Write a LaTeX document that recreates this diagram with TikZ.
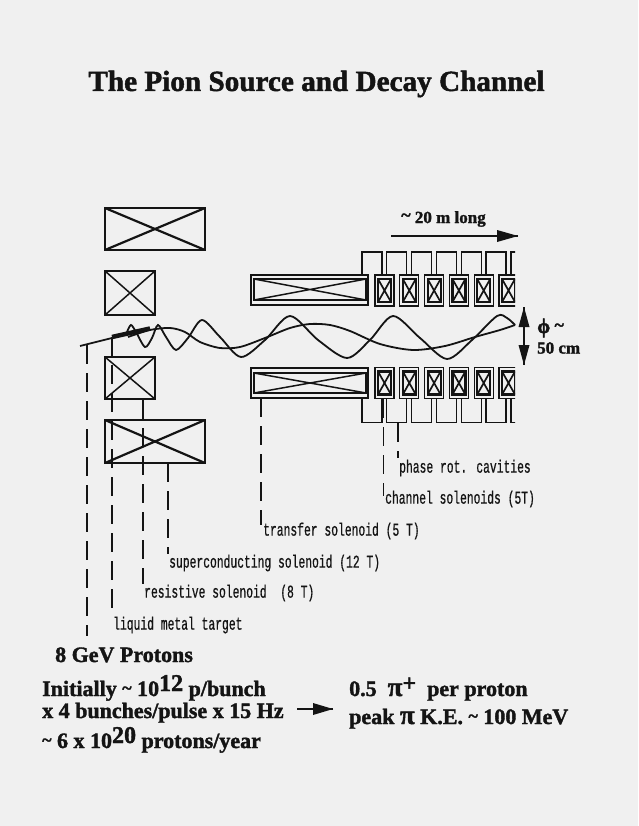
\documentclass[tikz,border=0pt]{standalone}
\usepackage{fontspec}
\setmainfont[BoldFeatures={FakeBold=1.6}]{Liberation Serif}
\newfontfamily\labelfont[FakeStretch=0.63,FakeBold=0.6]{Liberation Mono}
\definecolor{paper}{HTML}{F0F0F0}
\definecolor{ink}{HTML}{141414}
\newcommand{\upnum}[1]{\raisebox{5pt}{\fontsize{24}{24}\selectfont #1}}
\newcommand{\twiddle}{\raisebox{2pt}{\fontsize{18}{18}\selectfont\textasciitilde}}
\newcommand{\bigpi}{{\fontsize{27}{27}\selectfont π}}
\tikzset{
    crossed/.style={draw=ink, inner sep=0pt, path picture={
        \draw[ink, line width=#1]
            (path picture bounding box.north west) -- (path picture bounding box.south east)
            (path picture bounding box.south west) -- (path picture bounding box.north east);
    }},
    magnet/.style={crossed=2.2pt, line width=1.9pt},
    smallmagnet/.style={crossed=1.5pt, line width=1.4pt},
    shell/.style={draw=ink, inner sep=0pt, line width=1.3pt},
    leader/.style={ink, line width=1.1pt, dash pattern=on 19pt off 9pt},
    tag/.style={ink, anchor=west, inner sep=0pt, font=\labelfont\fontsize{18}{19}\selectfont},
    heading/.style={ink, anchor=west, inner sep=0pt, text height=13pt, text depth=4pt, font=\bfseries\fontsize{22}{24}\selectfont},
    beam/.style={ink, line width=1.8pt}
}
\begin{document}
\begin{tikzpicture}[x=1pt, y=-1pt]
    \fill[paper] (0,0) rectangle (638,826);

    \node[ink, font=\bfseries\fontsize{29.2}{32}\selectfont] (title) at (316.5,84) {The Pion Source and Decay Channel};

    % Magnets around the target
    \node[magnet, minimum width=100pt, minimum height=42pt] (coilA) at (155,229) {};
    \node[smallmagnet, minimum width=50pt, minimum height=44pt] (coilB) at (130,293) {};
    \node[smallmagnet, minimum width=50pt, minimum height=42pt] (coilC) at (130,378) {};
    \node[magnet, minimum width=100pt, minimum height=43pt] (coilD) at (155,441.5) {};

    % Transfer solenoid
    \node[shell, minimum width=117pt, minimum height=30pt] (transUp) at (309.5,290) {};
    \node[crossed=1.5pt, line width=1.3pt, minimum width=112pt, minimum height=21pt] at (310,289.5) {};
    \node[shell, minimum width=117pt, minimum height=30pt] (transDown) at (309.5,383) {};
    \node[crossed=1.5pt, line width=1.3pt, minimum width=112pt, minimum height=20pt] at (310,383) {};

    % Channel solenoids and phase rotation cavities
    \begin{scope}
        \clip (355,240) rectangle (515,430);
        \foreach \n/\x in {1/384.5, 2/409.3, 3/434.1, 4/458.9, 5/483.7, 6/508.5} {
            \node[shell, minimum width=19pt, minimum height=31pt] (upper\n) at (\x,290.5) {};
            \node[crossed=1.7pt, line width=2.2pt, minimum width=13pt, minimum height=23pt] at (\x,290.5) {};
            \node[shell, minimum width=19pt, minimum height=31pt] (lower\n) at (\x,383) {};
            \node[crossed=1.7pt, line width=2.2pt, minimum width=13pt, minimum height=23pt] at (\x,383) {};
            \draw[ink, line width=1.2pt] (\x-22.5,275) |- (\x-2.5,252) -- (\x-2.5,275);
            \draw[ink, line width=1.2pt] (\x-22.5,398) |- (\x-2.5,422.5) -- (\x-2.5,398);
        }
        \draw[ink, line width=1.2pt] (511,275) |- (520,252);
        \draw[ink, line width=1.2pt] (511,398) |- (520,422.5);
    \end{scope}

    % Proton beam and target
    \coordinate (beamstart) at (80,346);
    \coordinate (targetstart) at (112,337);
    \coordinate (targetend) at (150,328.5);
    \draw[beam] (beamstart) -- (targetend);
    \draw[ink, line width=4.5pt] (targetstart) -- (targetend);

    % Slow wave
    \draw[beam] plot[smooth] coordinates {
        (128,337) (150,330) (170,328) (185,332) (200,342) (220,348) (240,347)
        (265,338) (290,328) (310,324) (330,325) (350,331) (380,344) (413,350)
        (445,346) (475,337) (500,330) (515,325)
    };
    % Fast wave
    \draw[beam] plot[smooth] coordinates {
        (127,332) (131,325) (136,332) (145,347) (152,338) (158,325) (166,337)
        (176,350) (188,338) (202,320) (220,337) (241,357) (265,340) (290,316)
        (318,340) (347,358) (370,340) (393,316) (420,338) (447,359) (472,340)
        (497,316) (507,318) (515,325)
    };

    % Length and aperture
    \coordinate (lenstart) at (391,236);
    \coordinate (lenend) at (518,236);
    \draw[ink, line width=1.3pt] (lenstart) -- (lenend);
    \fill[ink] (lenend) -- (497,230) -- (497,242) -- cycle;
    \node[ink, font=\bfseries\fontsize{17}{18}\selectfont] (lenlabel) at (443.5,219) {\twiddle{} 20 m long};

    \coordinate (aptop) at (524,307);
    \coordinate (apbot) at (524,365);
    \draw[ink, line width=1.3pt] (aptop) -- (apbot);
    \fill[ink] (aptop) -- (518.5,327) -- (529.5,327) -- cycle;
    \fill[ink] (apbot) -- (518.5,345) -- (529.5,345) -- cycle;
    \node[ink, anchor=west, inner sep=0pt, font=\bfseries\fontsize{17}{18}\selectfont] (aplabelA) at (537,328) {{\fontsize{21}{21}\selectfont ϕ} \twiddle};
    \node[ink, anchor=west, inner sep=0pt, font=\bfseries\fontsize{17}{18}\selectfont] (aplabelB) at (537,348) {50 cm};

    % Labels
    \node[tag] (phase) at (399,468) {phase rot. cavities};
    \node[tag] (channel) at (385,499) {channel solenoids (5T)};
    \node[tag] (transfer) at (263,531) {transfer solenoid (5 T)};
    \node[tag] (super) at (169,563) {superconducting solenoid (12 T)};
    \node[tag] (resist) at (144,593) {resistive solenoid\ \ (8 T)};
    \node[tag] (liquid) at (113,625) {liquid metal target};

    % Leaders
    \coordinate (protonend) at (87,636);
    \draw[leader] (87,345) -- (protonend);
    \draw[leader] (targetstart) -- (targetstart |- liquid.north);
    \draw[leader] (143,400) -- (143,584);
    \draw[leader] (168,463) -- (168,554);
    \draw[leader] (261,398) -- (261,525);
    \draw[leader] (lower1.south) ++(-1,0) -- (383.5,496);
    \draw[leader] (398,423) -- (398,458);

    % Beam numbers
    \node[heading] (protons) at (55,657.5) {8 GeV Protons};
    \node[heading] (initial) at (42,691.5) {Initially \twiddle{} 10\upnum{12} p/bunch};
    \node[heading] (pulse) at (42,713.5) {x 4 bunches/pulse x 15 Hz};
    \node[heading] (year) at (42,743.5) {\twiddle{} 6 x 10\upnum{20} protons/year};
    \node[heading] (yield) at (349,691.5) {0.5\ \ \bigpi\raisebox{5pt}{\fontsize{24}{24}\selectfont +}\ \ per proton};
    \node[heading] (peak) at (349,719.5) {peak \bigpi{} K.E. \twiddle{} 100 MeV};

    \coordinate (gostart) at (297,709);
    \coordinate (goend) at (333,709);
    \draw[ink, line width=2pt] (gostart) -- (goend);
    \fill[ink] (goend) -- (313,703) -- (313,715) -- cycle;
\end{tikzpicture}
\end{document}
